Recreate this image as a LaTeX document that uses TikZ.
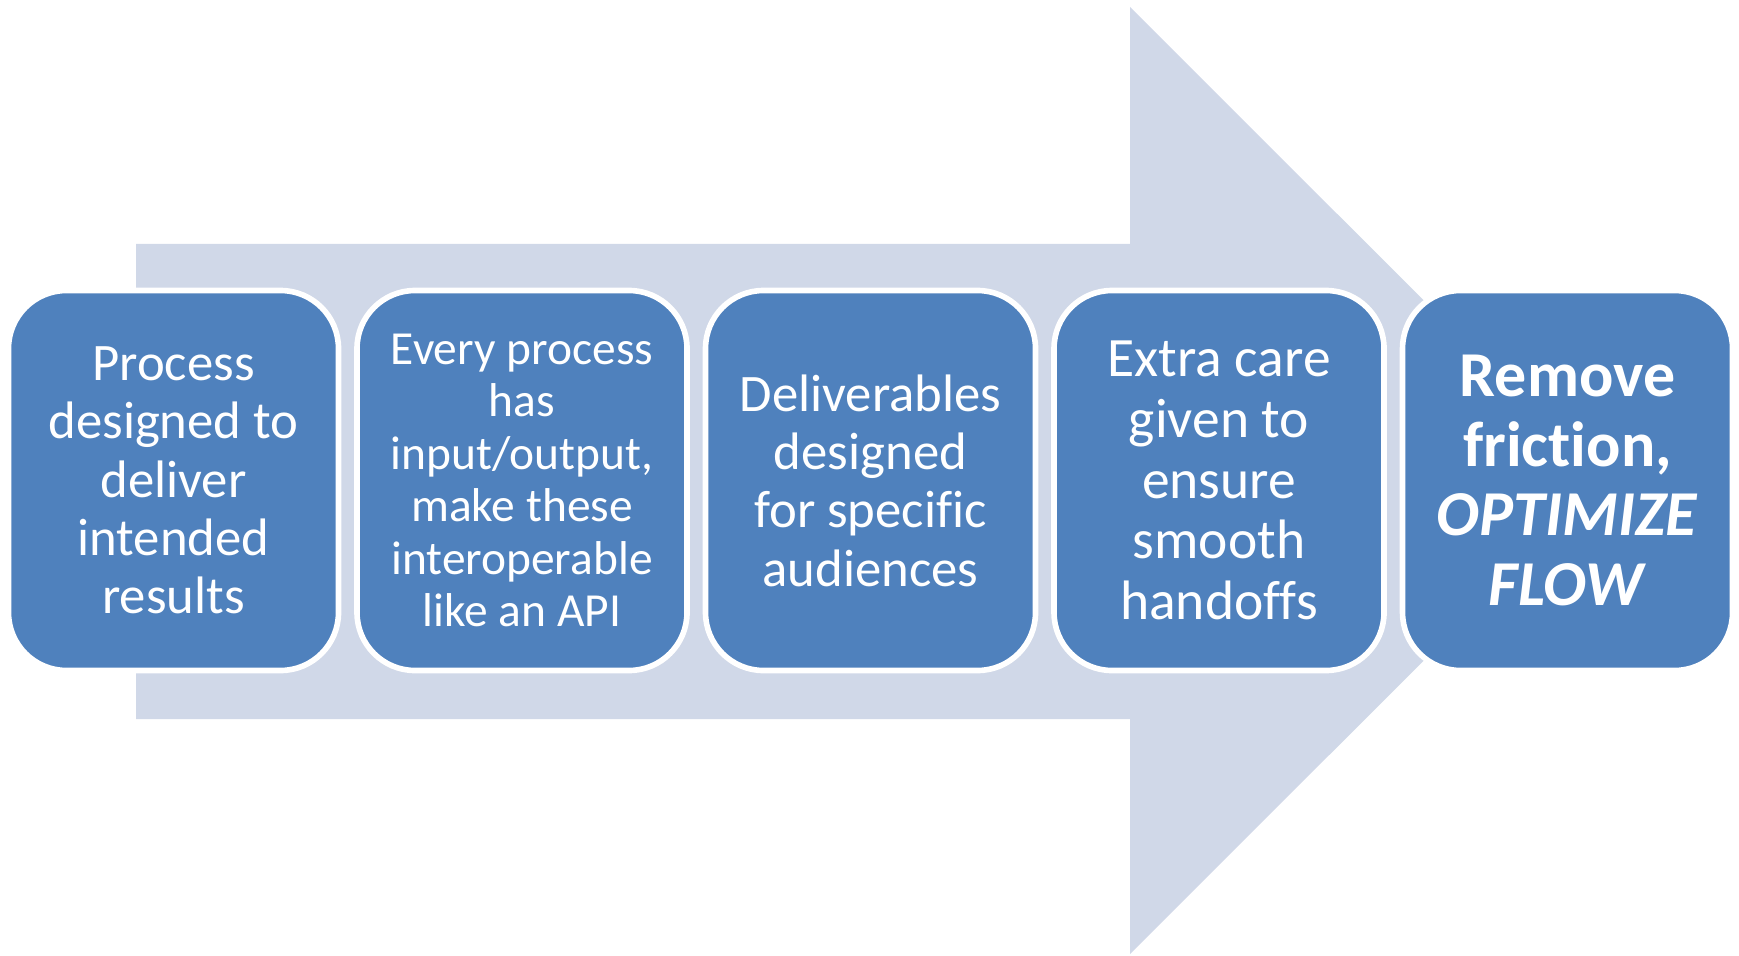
\documentclass[tikz,border=0pt]{standalone}
\usepackage{fontspec}
\setmainfont[Ligatures=NoCommon]{Carlito}
\usepackage{tikz}
\usetikzlibrary{positioning}
\usepackage{xcolor}
\definecolor{stageblue}{HTML}{4F81BD}
\definecolor{arrowgray}{HTML}{D0D8E8}

\begin{document}
\begin{tikzpicture}[
    stagebox/.style={draw=white, line width=1.6pt, rounded corners=0.58cm, fill=stageblue, text=white, align=center, minimum width=3.30cm, minimum height=3.80cm, inner sep=1pt},
    stagetext/.style={font=\fontsize{15}{16.6}\selectfont},
    flowarrow/.style={fill=arrowgray, draw=none}
  ]
    \useasboundingbox (0,0) rectangle (17.39,9.55);

    % big arrow behind the stages
    \fill[flowarrow] (1.36,7.11) -- (11.30,7.11) -- (11.30,9.48) -- (16.04,4.745)
        -- (11.30,0.01) -- (11.30,2.36) -- (1.36,2.36) -- cycle;

    \node[stagebox, stagetext] (design) at (1.735,4.745) {Process\\designed to\\deliver\\intended\\results};
    \node[stagebox, font=\fontsize{13.5}{14.9}\selectfont] (interface) at (5.22,4.745) {Every process\\has\\input/output,\\make these\\interoperable\\like an API};
    \node[stagebox, stagetext] (deliver) at (8.705,4.745) {Deliverables\\designed\\for specific\\audiences};
    \node[stagebox, font=\fontsize{15.8}{17.3}\selectfont] (handoff) at (12.19,4.745) {Extra care\\given to\\ensure\\smooth\\handoffs};
    \node[stagebox, font=\fontsize{18.2}{19.9}\selectfont\bfseries] (flow) at (15.675,4.745) {Remove\\friction,\\\textit{OPTIMIZE}\\\textit{FLOW}};
  \end{tikzpicture}
\end{document}
